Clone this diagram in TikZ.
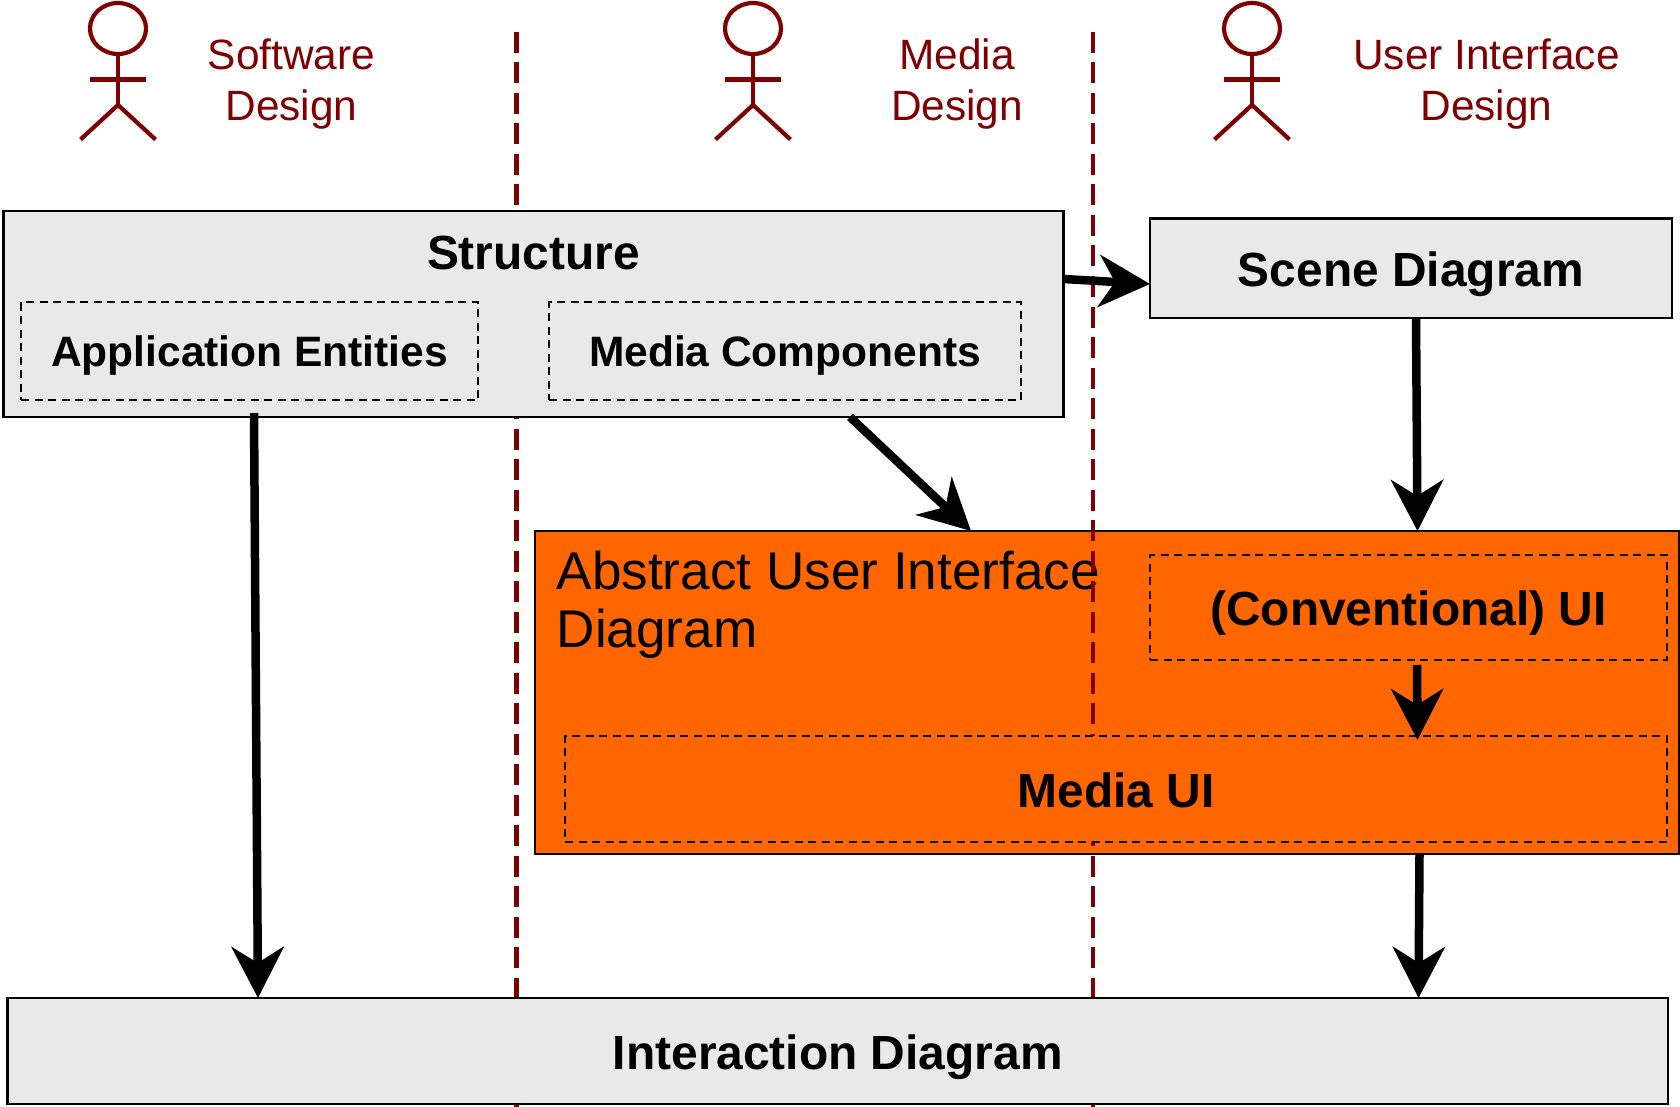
\documentclass[tikz,border=0pt]{standalone}
\usepackage{fontspec}
\setmainfont{Liberation Sans}
\usetikzlibrary{arrows.meta,shapes.geometric}
\definecolor{darkred}{HTML}{7F0000}
\definecolor{boxgray}{HTML}{E9E9E9}
\definecolor{boxorange}{HTML}{FF6600}
\tikzset{
  box/.style={draw=black,line width=2.6pt,inner sep=0pt,outer sep=0pt,align=center,text height=36pt,text depth=0pt,font=\fontsize{47.9}{56}\selectfont\bfseries},
  graybox/.style={box,fill=boxgray},
  inner box/.style={draw=black,line width=2pt,dash pattern=on 8pt off 5.5pt,inner sep=0pt,outer sep=0pt,align=center,text height=36pt,text depth=0pt,font=\fontsize{47.9}{56}\selectfont\bfseries},
  small bold/.style={text height=30.5pt,font=\fontsize{42.5}{50}\selectfont\bfseries},
  lane/.style={draw=darkred,line width=4.2pt,dash pattern=on 21pt off 9.5pt},
  actor line/.style={draw=darkred,line width=4.2pt},
  actor head/.style={ellipse,actor line,minimum width=56pt,minimum height=51pt,inner sep=0pt,outer sep=0pt},
  actor label/.style={text=darkred,align=center,inner sep=0pt,font=\fontsize{42.4}{51}\selectfont},
  flow/.style={line width=8.5pt,draw=black,-{Stealth[length=51pt,width=52pt,inset=16pt]}},
}
\begin{document}
\begin{tikzpicture}[x=1pt,y=-1pt]
\useasboundingbox (0,0) rectangle (1680,1107);
% actors
\node[actor head] (h1) at (118,28.5) {};
\node[actor head] (h2) at (753,28.5) {};
\node[actor head] (h3) at (1252,28.5) {};
\foreach \h in {h1,h2,h3}{
  \draw[actor line] (\h.south) -- ++(0,51) coordinate (\h hip);
  \draw[actor line] ([yshift=-25.5pt]\h.south) ++(-28,0) -- ++(56,0);
  \draw[actor line] (\h hip) ++(-37.5,34.5) -- (\h hip) -- ++(37.5,34.5);
}
\node[actor label] (l1) at (291.5,84.3) {Software\\Design};
\node[actor label] (l2) at (957,84.3) {Media\\Design};
\node[actor label] (l3) at (1486.5,84.3) {User Interface\\Design};
% abstract box (under the lanes)
\node[box,fill=boxorange,minimum width=1144pt,minimum height=323pt] (abs) at (1107,692.5) {};
\node[anchor=north west,inner sep=0pt,align=left,font=\fontsize{53.1}{58}\selectfont] (abstext) at (556.5,551) {Abstract User Interface\\Diagram};
% lanes
\coordinate (lane1top) at (516.5,32);
\coordinate (lane1bot) at (516.5,1107);
\coordinate (lane2top) at (1093,32);
\coordinate (lane2bot) at (1093,1107);
\draw[lane] (lane1top) -- (lane1bot);
\draw[lane] (lane2top) -- (lane2bot);
% boxes
\node[graybox,minimum width=1060pt,minimum height=206pt] (structure) at (533.5,314) {};
\node[inner sep=0pt,font=\fontsize{47.9}{56}\selectfont\bfseries] (stitle) at (533.5,253) {Structure};
\node[inner box,small bold,minimum width=457pt,minimum height=98pt] (app) at (249.5,351) {Application Entities};
\node[inner box,small bold,minimum width=472pt,minimum height=98pt] (mc) at (785,351) {Media Components};
\node[graybox,minimum width=522pt,minimum height=99.5pt] (scene) at (1411,268.25) {Scene Diagram};
\node[inner box,minimum width=517pt,minimum height=105pt] (conv) at (1408.5,607.5) {(Conventional) UI};
\node[inner box,fill=boxorange,minimum width=1102pt,minimum height=106pt] (mui) at (1116,789) {Media UI};
\node[graybox,minimum width=1660.5pt,minimum height=106pt] (inter) at (837.75,1051) {Interaction Diagram};
% connectors
\draw[flow] ([xshift=-279.5pt,yshift=4pt]structure.south) -- ([xshift=-579.75pt]inter.north);
\draw[flow] ([yshift=35pt]structure.east) -- ([yshift=-15.75pt]scene.west);
\draw[flow] ([xshift=316.5pt]structure.south) -- ([xshift=-136pt]abs.north);
\draw[flow] ([xshift=5pt]scene.south) -- ([xshift=310.5pt]abs.north);
\draw[flow] ([shift={(8.5pt,-5pt)}]conv.south) -- ([shift={(301.5pt,-4pt)}]mui.north);
\draw[flow] ([xshift=312.5pt]abs.south) -- ([xshift=580.75pt]inter.north);
\end{tikzpicture}
\end{document}
